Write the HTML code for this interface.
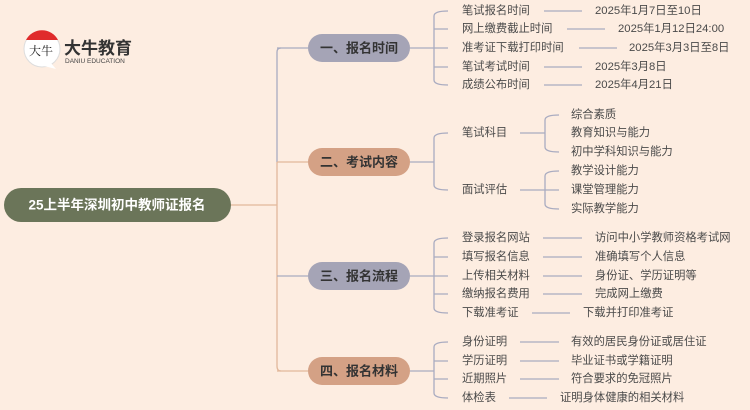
<!DOCTYPE html>
<html><head><meta charset="utf-8"><style>
body{margin:0;background:#fdede1;}
svg{display:block;font-family:"Liberation Sans","Noto Sans CJK SC",sans-serif;}
.t{font-size:11.3px;fill:#4a4a4a;dominant-baseline:central;}
.b{font-size:13px;font-weight:bold;fill:#333;dominant-baseline:central;text-anchor:middle;}
.g{stroke:#a9abc0;stroke-width:1.3;fill:none;}
.o{stroke:#e2b89b;stroke-width:1.3;fill:none;}
</style></head><body>
<svg width="750" height="410" viewBox="0 0 750 410">
<rect width="750" height="410" fill="#fdede1"/>
<!-- logo -->
<circle cx="42" cy="49" r="18" fill="#fff" stroke="#ddd"/>
<path d="M26 40 A18 18 0 0 1 58 40 Z" fill="#e02b2b"/>
<path d="M44 66 L56 69 L50 62 Z" fill="#fff"/>
<text x="29" y="55" font-size="12" fill="#222" font-family="Noto Serif CJK SC,serif">大牛</text>
<text x="64" y="54" font-size="17" font-weight="bold" fill="#333">大牛教育</text>
<text x="65" y="63" font-size="6.5" fill="#444">DANIU EDUCATION</text>
<!-- root -->
<rect x="4" y="188" width="227" height="34" rx="17" fill="#6b7559"/>
<text x="117" y="205" class="b" style="fill:#fff;font-size:13.5px">25上半年深圳初中教师证报名</text>
<path class="o" d="M231 205 H277"/>
<path class="g" d="M281 48 Q277 48 277 52 V162"/>
<path class="o" d="M277 162 V366 Q277 371 281 371"/>
<path class="g" d="M277 48 H308"/><path class="o" d="M277 162 H308"/>
<path class="g" d="M277 276 H308"/><path class="o" d="M277 371 H308"/>
<rect x="308" y="34" width="102" height="28" rx="14" fill="#a5a4b6"/><text x="359" y="48" class="b">一、报名时间</text>
<rect x="308" y="148" width="102" height="28" rx="14" fill="#d4a185"/><text x="359" y="162" class="b">二、考试内容</text>
<rect x="308" y="262" width="102" height="28" rx="14" fill="#a5a4b6"/><text x="359" y="276" class="b">三、报名流程</text>
<rect x="308" y="357" width="102" height="28" rx="14" fill="#d4a185"/><text x="359" y="371" class="b">四、报名材料</text>
<!-- branch 1 -->
<path class="g" d="M410 48 H434 M448 11 Q434 11 434 16 V80 Q434 85 448 85 M434 29 H448 M434 48 H448 M434 67 H448"/>
<text x="462" y="11" class="t">笔试报名时间</text><path class="g" d="M544 11 H582"/><text x="595" y="11" class="t">2025年1月7日至10日</text>
<text x="462" y="29" class="t">网上缴费截止时间</text><path class="g" d="M567 29 H605"/><text x="618" y="29" class="t">2025年1月12日24:00</text>
<text x="462" y="48" class="t">准考证下载打印时间</text><path class="g" d="M579 48 H617"/><text x="629" y="48" class="t">2025年3月3日至8日</text>
<text x="462" y="67" class="t">笔试考试时间</text><path class="g" d="M544 67 H582"/><text x="595" y="67" class="t">2025年3月8日</text>
<text x="462" y="85" class="t">成绩公布时间</text><path class="g" d="M544 85 H582"/><text x="595" y="85" class="t">2025年4月21日</text>
<!-- branch 2 -->
<path class="g" d="M410 162 H434 M448 133 Q434 133 434 138 V185 Q434 190 448 190"/>
<text x="462" y="133" class="t">笔试科目</text><path class="g" d="M520 133 H545 M559 115 Q545 115 545 120 V147 Q545 152 559 152"/>
<text x="571" y="115" class="t">综合素质</text><text x="571" y="133" class="t">教育知识与能力</text><text x="571" y="152" class="t">初中学科知识与能力</text>
<text x="462" y="190" class="t">面试评估</text><path class="g" d="M520 190 H545 M559 171 Q545 171 545 176 V204 Q545 209 559 209 M545 190 H559"/>
<text x="571" y="171" class="t">教学设计能力</text><text x="571" y="190" class="t">课堂管理能力</text><text x="571" y="209" class="t">实际教学能力</text>
<!-- branch 3 -->
<path class="g" d="M410 276 H434 M448 238 Q434 238 434 243 V308 Q434 313 448 313 M434 257 H448 M434 276 H448 M434 294 H448"/>
<text x="462" y="238" class="t">登录报名网站</text><path class="g" d="M543 238 H582"/><text x="595" y="238" class="t">访问中小学教师资格考试网</text>
<text x="462" y="257" class="t">填写报名信息</text><path class="g" d="M543 257 H582"/><text x="595" y="257" class="t">准确填写个人信息</text>
<text x="462" y="276" class="t">上传相关材料</text><path class="g" d="M543 276 H582"/><text x="595" y="276" class="t">身份证、学历证明等</text>
<text x="462" y="294" class="t">缴纳报名费用</text><path class="g" d="M543 294 H582"/><text x="595" y="294" class="t">完成网上缴费</text>
<text x="462" y="313" class="t">下载准考证</text><path class="g" d="M532 313 H570"/><text x="583" y="313" class="t">下载并打印准考证</text>
<!-- branch 4 -->
<path class="g" d="M410 371 H434 M448 342 Q434 342 434 347 V393 Q434 398 448 398 M434 361 H448 M434 379 H448"/>
<text x="462" y="342" class="t">身份证明</text><path class="g" d="M520 342 H559"/><text x="571" y="342" class="t">有效的居民身份证或居住证</text>
<text x="462" y="361" class="t">学历证明</text><path class="g" d="M520 361 H559"/><text x="571" y="361" class="t">毕业证书或学籍证明</text>
<text x="462" y="379" class="t">近期照片</text><path class="g" d="M520 379 H559"/><text x="571" y="379" class="t">符合要求的免冠照片</text>
<text x="462" y="398" class="t">体检表</text><path class="g" d="M509 398 H547"/><text x="560" y="398" class="t">证明身体健康的相关材料</text>
</svg>
</body></html>
